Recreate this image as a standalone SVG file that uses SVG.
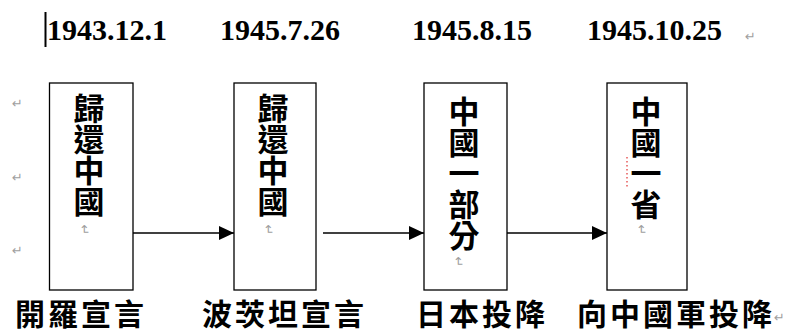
<svg xmlns="http://www.w3.org/2000/svg" width="785" height="334" viewBox="0 0 785 334">
<style>
.date{font-family:"Liberation Serif",serif;font-weight:bold;font-size:30px;fill:#000}
.v{font-family:"Noto Sans CJK TC","Noto Sans CJK SC",sans-serif;font-weight:bold;font-size:31px;fill:#000;writing-mode:vertical-rl}
.lab{font-family:"Noto Sans CJK TC","Noto Sans CJK SC",sans-serif;font-weight:bold;font-size:30px;letter-spacing:3px;fill:#000}
.mark{font-family:"DejaVu Sans",sans-serif;font-size:13px;fill:#a0a0a0}
.box{fill:#fff;stroke:#000;stroke-width:1.3}
.conn{stroke:#000;stroke-width:1.3;fill:none}
</style>
<defs>
<marker id="ah" markerWidth="15" markerHeight="14" refX="15" refY="7" orient="auto" markerUnits="userSpaceOnUse">
<path d="M0,0 L15,7 L0,14 Z" fill="#000"/>
</marker>
</defs>
<rect width="785" height="334" fill="#fff"/>
<g id="dates">
<line x1="45.5" y1="12" x2="45.5" y2="47" stroke="#000" stroke-width="2"/>
<text class="date" x="47" y="40">1943.12.1</text>
<text class="date" x="220" y="40">1945.7.26</text>
<text class="date" x="412" y="40">1945.8.15</text>
<text class="date" x="587" y="40">1945.10.25</text>
<text class="mark" x="745" y="41">↵</text>
</g>
<g id="margin-marks">
<text class="mark" x="12" y="108">↵</text>
<text class="mark" x="12" y="182">↵</text>
<text class="mark" x="12" y="255">↵</text>
</g>
<g id="connectors">
<line class="conn" x1="133" y1="233" x2="234" y2="233" marker-end="url(#ah)"/>
<line class="conn" x1="323" y1="233" x2="424" y2="233" marker-end="url(#ah)"/>
<line class="conn" x1="507" y1="233" x2="607" y2="233" marker-end="url(#ah)"/>
</g>
<g id="node1">
<rect class="box" x="49.5" y="83" width="83.5" height="207"/>
<text class="v" x="89" y="93">歸還中國</text>
<text class="mark" transform="translate(84,230) rotate(90)" text-anchor="middle" dy="4">↵</text>
<text class="lab" x="15" y="325">開羅宣言</text>
</g>
<g id="node2">
<rect class="box" x="234" y="83" width="82" height="207"/>
<text class="v" x="273" y="93">歸還中國</text>
<text class="mark" transform="translate(268,230) rotate(90)" text-anchor="middle" dy="4">↵</text>
<text class="lab" x="202" y="325">波茨坦宣言</text>
</g>
<g id="node3">
<rect class="box" x="424" y="83" width="83" height="207"/>
<text class="v" x="464" y="96">中國一部分</text>
<text class="mark" transform="translate(458,262) rotate(90)" text-anchor="middle" dy="4">↵</text>
<text class="lab" x="416" y="325">日本投降</text>
</g>
<g id="node4">
<rect class="box" x="607" y="83" width="80" height="207"/>
<line x1="627" y1="157" x2="627" y2="188" stroke="#e03030" stroke-width="1.2" stroke-dasharray="1.5,2.5"/>
<text class="v" x="646" y="96">中國一省</text>
<text class="mark" transform="translate(641,230) rotate(90)" text-anchor="middle" dy="4">↵</text>
<text class="lab" x="577" y="325">向中國軍投降</text>
<text class="mark" x="774" y="322">↵</text>
</g>
</svg>
